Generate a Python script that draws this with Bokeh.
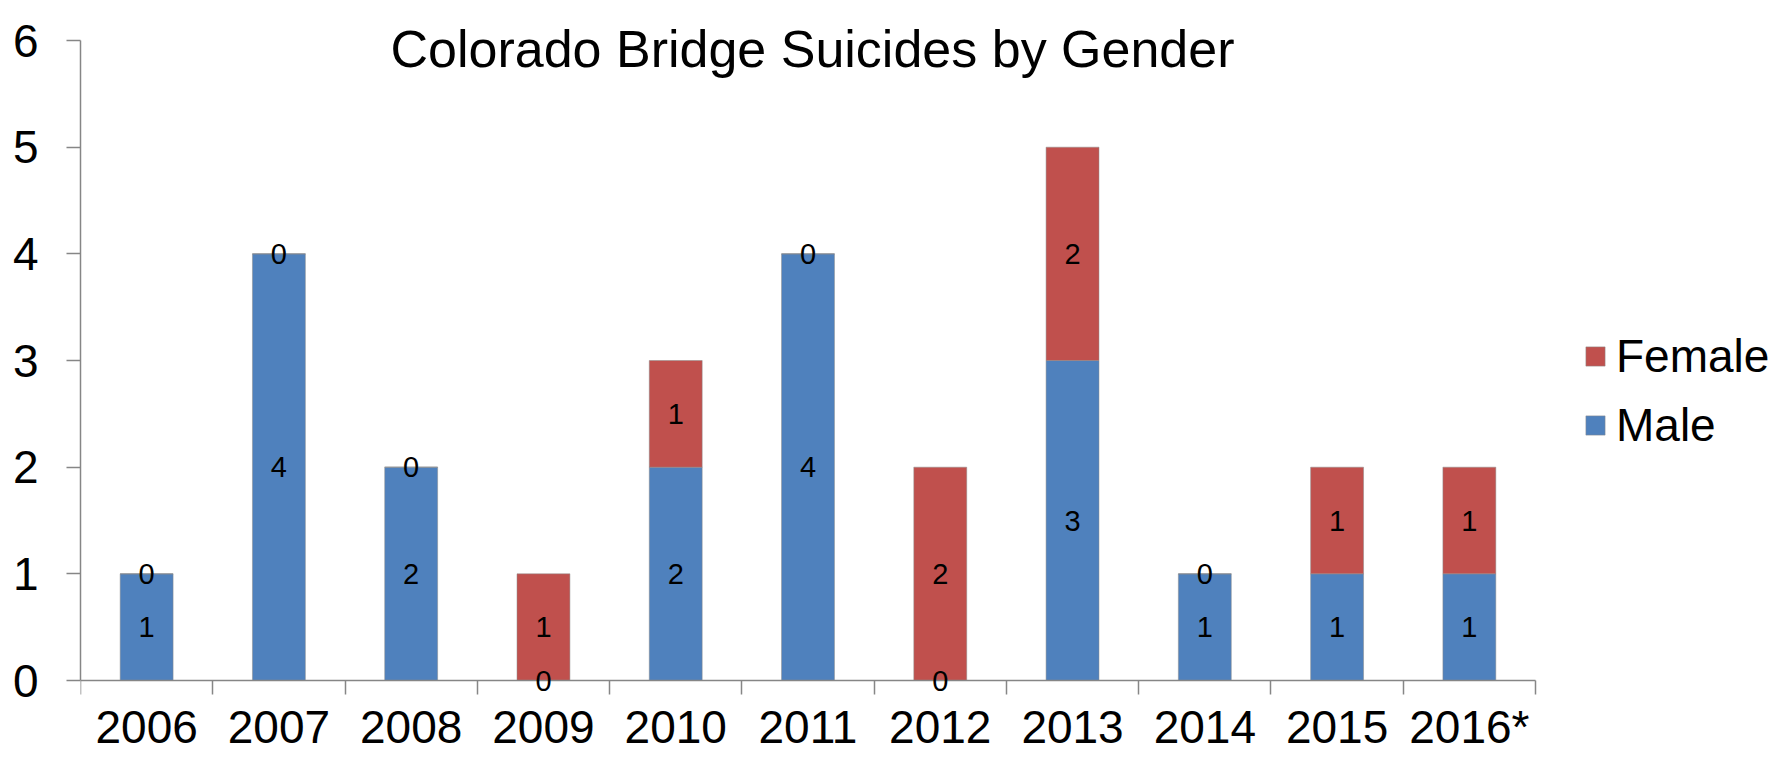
from bokeh.plotting import figure
from bokeh.models import (ColumnDataSource, Range1d, LinearAxis, FixedTicker, CustomJSTickFormatter,
                          Legend, LegendItem, LabelSet, Label)
from bokeh.core.properties import value
from bokeh.embed import file_html
from bokeh.resources import INLINE

# ---- data ----
years = ["2006", "2007", "2008", "2009", "2010", "2011", "2012", "2013", "2014", "2015", "2016*"]
male = [1, 4, 2, 0, 2, 4, 0, 3, 1, 1, 1]
female = [0, 0, 0, 1, 1, 0, 2, 2, 0, 1, 1]
y_ticks = [0, 1, 2, 3, 4, 5, 6]
title_text = "Colorado Bridge Suicides by Gender"

# ---- layout / style ----
W, H = 1791, 757
FRAME_LEFT = 80          # px where the value axis sits
BASE_Y = 680             # px of value 0
TOP_Y = 40               # px of the top tick
AXIS_RIGHT = 1535        # px where the category axis ends
BLUE = "#4F81BD"
RED = "#C0504D"
GRAY = "#868686"
FONT = "Liberation Sans"

n = len(years)
ymax = max(y_ticks)
py_per_unit = (BASE_Y - TOP_Y) / ymax
px_per_cat = (AXIS_RIGHT - FRAME_LEFT) / n
y_start = -(H - BASE_Y) / py_per_unit
y_end = ymax + TOP_Y / py_per_unit
x_end = (W - FRAME_LEFT) / px_per_cat

pos = [i + 0.5 for i in range(n)]          # category centres on the axis scale
src = ColumnDataSource(dict(
    x=pos,
    year=years,
    male=male,
    female=female,
    male_mid=[m / 2 for m in male],
    female_mid=[m + f / 2 for m, f in zip(male, female)],
    male_txt=[str(m) for m in male],
    female_txt=[str(f) for f in female],
))

p = figure(width=W, height=H, x_range=Range1d(0, x_end), y_range=Range1d(y_start, y_end),
           output_backend="svg", toolbar_location=None, x_axis_location=None,
           min_border_left=FRAME_LEFT, min_border_right=0, min_border_top=0, min_border_bottom=0,
           outline_line_color=None, background_fill_color="white")
p.grid.visible = False

rs = p.vbar_stack(["male", "female"], x="x", width=0.4, color=[BLUE, RED],
                  line_color="#8c8c8c", line_alpha=0.5, line_width=1, source=src)

# y axis
ya = p.yaxis[0]
ya.ticker = FixedTicker(ticks=y_ticks)
ya.bounds = (0, ymax)
ya.minor_tick_line_color = None
ya.major_tick_in = 0
ya.major_tick_out = 14
ya.axis_line_color = GRAY
ya.axis_line_width = 1.5
ya.major_tick_line_color = GRAY
ya.major_tick_line_width = 1.5
ya.major_label_text_font_size = "46px"
ya.major_label_text_font = FONT
ya.major_label_text_color = "black"
ya.major_label_standoff = 28

# x axis: labels at category centres, ticks at category boundaries, drawn at value 0
xa = LinearAxis(ticker=FixedTicker(ticks=pos, minor_ticks=list(range(n + 1))),
                formatter=CustomJSTickFormatter(args=dict(cats=years), code="return cats[Math.floor(tick)];"),
                fixed_location=0, bounds=(0, n))
xa.major_tick_out = 0
xa.major_tick_in = 0
xa.minor_tick_out = 14
xa.minor_tick_in = 0
xa.minor_tick_line_color = GRAY
xa.minor_tick_line_width = 1.5
xa.axis_line_color = GRAY
xa.axis_line_width = 1.5
xa.major_label_text_font_size = "46px"
xa.major_label_text_font = FONT
xa.major_label_text_color = "black"
xa.major_label_standoff = 6
p.add_layout(xa, "below")

# data labels
for ycol, tcol in (("male_mid", "male_txt"), ("female_mid", "female_txt")):
    p.add_layout(LabelSet(x="x", y=ycol, text=tcol, source=src, text_align="center",
                          text_baseline="middle", text_font_size="29px", text_font=value(FONT),
                          text_color="black"))

# title
p.add_layout(Label(x=732, y=H - 48.5, x_units="screen", y_units="screen", text=title_text,
                   text_align="center", text_baseline="alphabetic", text_font_size="52px",
                   text_font=FONT, text_color="black"))

# legend
legend = Legend(items=[LegendItem(label="Female", renderers=[rs[1]]),
                       LegendItem(label="Male", renderers=[rs[0]])],
                location=(1583 - FRAME_LEFT, H - 452), glyph_width=24, glyph_height=24,
                label_text_font_size="46px", label_text_font=FONT, label_text_color="black",
                label_standoff=9, spacing=15, padding=0, margin=0,
                border_line_color=None, background_fill_alpha=0)
p.add_layout(legend)

open("out.html", "w").write(file_html(p, INLINE))
